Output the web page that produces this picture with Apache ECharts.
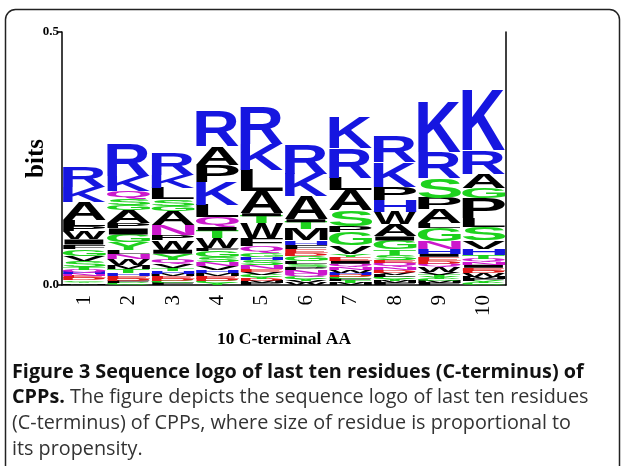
<!DOCTYPE html>
<html><head><meta charset="utf-8">
<script src="https://cdn.jsdelivr.net/npm/echarts@6/dist/echarts.min.js"></script>
<style>html,body{margin:0;padding:0;background:#fff}#c{width:622px;height:466px}</style>
</head><body><div id="c"></div>
<script>
// Positions along the C-terminus
const positions = ['1','2','3','4','5','6','7','8','9','10'];
const yTicks = [0.0, 0.5];
// Letter stacks, top -> bottom: [residue, height in bits]
const col1 = [['R',0.040],['K',0.030],['A',0.036],['L',0.012],['P',0.010],['W',0.016],['I',0.010],['F',0.008],['G',0.014],['V',0.010],['S',0.012],['T',0.006],['Q',0.005],['H',0.004],['N',0.004],['E',0.004],['D',0.004],['C',0.003],['Y',0.003],['M',0.003]];
const col2 = [['R',0.062],['K',0.030],['Q',0.016],['S',0.012],['G',0.010],['A',0.026],['P',0.010],['I',0.012],['G',0.016],['Y',0.014],['L',0.008],['N',0.010],['W',0.012],['M',0.008],['T',0.008],['H',0.006],['E',0.006],['D',0.004],['F',0.004],['C',0.004]];
const col3 = [['R',0.043],['K',0.026],['L',0.022],['S',0.014],['G',0.010],['A',0.028],['N',0.020],['P',0.010],['W',0.018],['I',0.008],['Y',0.012],['Q',0.008],['V',0.008],['T',0.006],['H',0.006],['M',0.005],['E',0.005],['D',0.004],['C',0.004],['F',0.004]];
const col4 = [['R',0.069],['A',0.036],['P',0.034],['K',0.045],['L',0.024],['Q',0.020],['I',0.008],['T',0.014],['W',0.020],['F',0.006],['G',0.012],['S',0.010],['N',0.008],['V',0.008],['H',0.006],['M',0.006],['E',0.005],['D',0.004],['C',0.004],['Y',0.004]];
const col5 = [['R',0.072],['K',0.050],['L',0.042],['A',0.044],['I',0.006],['T',0.014],['W',0.030],['F',0.016],['Q',0.012],['G',0.008],['H',0.006],['S',0.010],['N',0.008],['E',0.006],['V',0.006],['C',0.004],['Y',0.004],['D',0.004],['M',0.004],['P',0.004]];
const col6 = [['R',0.059],['K',0.045],['A',0.045],['I',0.006],['T',0.014],['M',0.022],['H',0.008],['F',0.008],['E',0.008],['D',0.006],['G',0.010],['L',0.006],['S',0.006],['P',0.006],['N',0.008],['Q',0.006],['C',0.004],['Y',0.004],['V',0.004],['W',0.004]];
const col7 = [['K',0.062],['R',0.058],['L',0.024],['A',0.040],['S',0.032],['P',0.012],['G',0.026],['V',0.016],['Y',0.006],['E',0.008],['I',0.006],['Q',0.006],['N',0.006],['W',0.006],['H',0.004],['D',0.004],['C',0.004],['F',0.004],['T',0.004],['M',0.004]];
const col8 = [['R',0.050],['K',0.049],['P',0.026],['H',0.024],['W',0.024],['A',0.024],['I',0.008],['G',0.018],['T',0.010],['S',0.010],['E',0.006],['Q',0.008],['N',0.006],['D',0.006],['V',0.004],['L',0.004],['C',0.004],['Y',0.004],['M',0.004],['F',0.004]];
const col9 = [['K',0.100],['R',0.050],['S',0.040],['P',0.022],['A',0.028],['L',0.010],['G',0.026],['N',0.014],['H',0.010],['I',0.006],['E',0.008],['D',0.006],['Q',0.006],['W',0.010],['V',0.006],['T',0.004],['Y',0.004],['C',0.004],['M',0.004],['F',0.004]];
const col10 = [['K',0.120],['R',0.046],['A',0.028],['G',0.020],['P',0.040],['L',0.018],['S',0.026],['V',0.016],['H',0.012],['T',0.008],['Q',0.006],['N',0.006],['I',0.006],['E',0.006],['D',0.004],['W',0.008],['M',0.004],['F',0.004],['Y',0.004],['C',0.004]];
const columns = [col1,col2,col3,col4,col5,col6,col7,col8,col9,col10];

const colours = {
  R:'#1616e0',K:'#1616e0',H:'#1616e0',
  A:'#000000',L:'#000000',P:'#000000',I:'#000000',W:'#000000',F:'#000000',M:'#000000',V:'#000000',
  G:'#1ed21e',S:'#1ed21e',T:'#1ed21e',C:'#1ed21e',Y:'#1ed21e',
  Q:'#cc18cc',N:'#cc18cc',
  D:'#e01818',E:'#e01818'
};

const FONT = 'bold 100px "Liberation Sans"';
const mctx = document.createElement('canvas').getContext('2d');
mctx.font = FONT; mctx.textBaseline = 'middle'; mctx.textAlign = 'left';
const metrics = {};
Object.keys(colours).forEach(ch => {
  const m = mctx.measureText(ch);
  metrics[ch] = {bl:m.actualBoundingBoxLeft, w:m.actualBoundingBoxLeft+m.actualBoundingBoxRight,
                 asc:m.actualBoundingBoxAscent, h:m.actualBoundingBoxAscent+m.actualBoundingBoxDescent};
});

// Build stacked items: bottom (smallest) first
const items = [], letterOf = [];
columns.forEach((col, ci) => {
  let base = 0;
  for (let i = col.length - 1; i >= 0; i--) {
    const [ch, h] = col[i];
    items.push([ci, base, base + h]);
    letterOf.push(ch);
    base += h;
  }
});

function renderItem(params, api) {
  const ci = api.value(0);
  const lo = api.coord([ci, api.value(1)]);
  const hi = api.coord([ci, api.value(2)]);
  const bw = api.size([1, 0])[0];
  const ch = letterOf[params.dataIndex];
  const m = metrics[ch];
  const W = bw * 0.97, H = lo[1] - hi[1];
  if (H <= 0.1) return;
  const sx = W / m.w, sy = H / m.h;
  return {
    type: 'text', silent: true,
    x: lo[0] - W / 2 + m.bl * sx, y: hi[1] + m.asc * sy,
    scaleX: sx, scaleY: sy,
    style: {text: ch, x: 0, y: 0, font: FONT, fill: colours[ch], textAlign: 'left', verticalAlign: 'middle'}
  };
}

const serif = '"Liberation Serif", "Times New Roman", serif';
const chart = echarts.init(document.getElementById('c'), null, {renderer: 'canvas'});
chart.setOption({
  animation: false,
  backgroundColor: '#ffffff',
  grid: {left: 62, right: 116, top: 32, bottom: 181, containLabel: false},
  xAxis: {
    type: 'category', data: positions, boundaryGap: true,
    axisLine: {show: true, lineStyle: {color: '#000', width: 1.5}},
    axisTick: {show: false},
    axisLabel: {rotate: 90, margin: 10, color: '#000', fontFamily: serif, fontSize: 21, fontWeight: 'normal'},
    name: '10 C-terminal AA', nameLocation: 'middle', nameGap: 45, nameMoveOverlap: false,
    nameTextStyle: {color: '#000', fontFamily: serif, fontWeight: 'bold', fontSize: 17.5}
  },
  yAxis: [{
    type: 'value', min: yTicks[0], max: yTicks[1], interval: 0.5,
    axisLine: {show: true, lineStyle: {color: '#000', width: 1.5}},
    axisTick: {show: true, length: 4, lineStyle: {color: '#000', width: 1.5}},
    splitLine: {show: false},
    axisLabel: {margin: 3, color: '#000', fontFamily: serif, fontWeight: 'bold', fontSize: 13,
                formatter: v => v.toFixed(1)},
    name: 'bits', nameLocation: 'middle', nameGap: 13, nameRotate: 90, nameMoveOverlap: false,
    nameTextStyle: {color: '#000', fontFamily: serif, fontWeight: 'bold', fontSize: 25}
  }, {
    type: 'value', position: 'right', min: 0, max: 0.5, interval: 0.5,
    axisLine: {show: true, lineStyle: {color: '#000', width: 1.5}},
    axisTick: {show: false}, axisLabel: {show: false}, splitLine: {show: false}
  }],
  series: [{
    type: 'custom', renderItem: renderItem, data: items,
    encode: {x: 0, y: [1, 2]}, clip: false
  }],
  graphic: [
    {type: 'rect', shape: {x: 5.5, y: 9.5, width: 614, height: 520, r: 10},
     style: {fill: 'none', stroke: '#222', lineWidth: 1.5}, silent: true},
    {type: 'text', left: 12, top: 362, silent: true,
     style: {
       text: '{b|Figure 3 Sequence logo of last ten residues (C-terminus) of}\n{b|CPPs.}{n| The figure depicts the sequence logo of last ten residues}\n{n|(C-terminus) of CPPs, where size of residue is proportional to}\n{n|its propensity.}',
       rich: {
         b: {fontFamily: '"Open Sans", sans-serif', fontWeight: 'bold', fontSize: 19.8, fill: '#111', lineHeight: 25.7},
         n: {fontFamily: '"Open Sans", sans-serif', fontWeight: 'normal', fontSize: 19.8, fill: '#333', lineHeight: 25.7}
       }
     }}
  ]
});
</script></body></html>
